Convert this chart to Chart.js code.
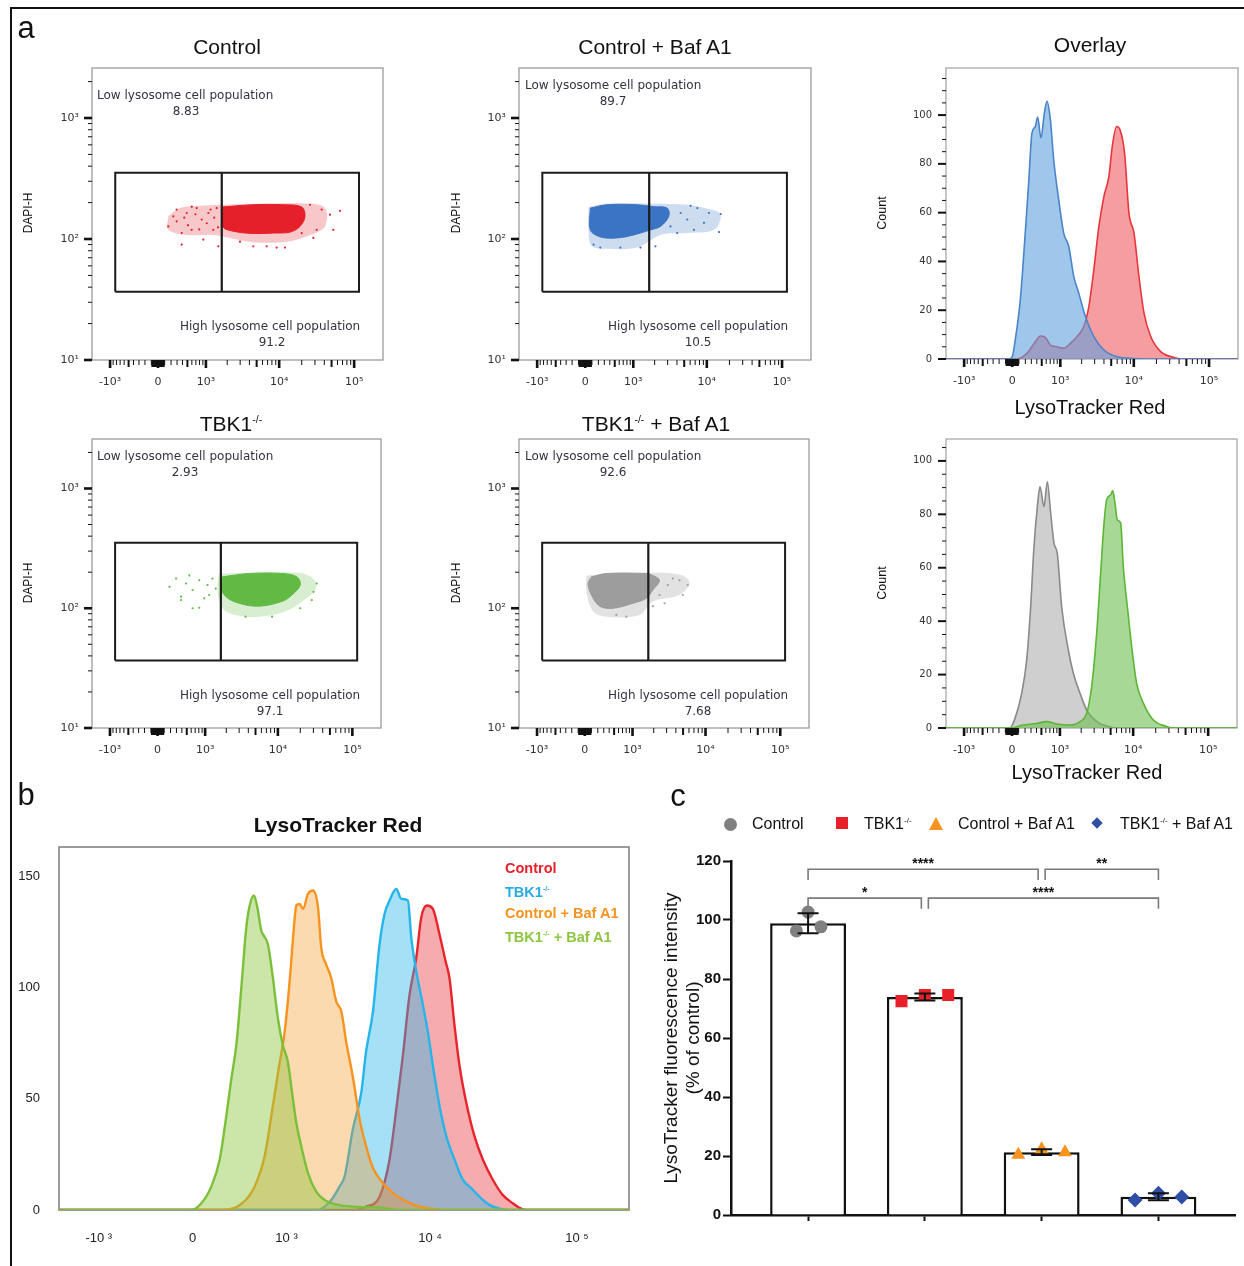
<!DOCTYPE html>
<html>
<head>
<meta charset="utf-8">
<title>LysoTracker Red</title>
<script src="https://cdn.jsdelivr.net/npm/chart.js@4.4.1/dist/chart.umd.min.js"></script>
<style>
  body { margin: 0; background: #fff; }
  #page { position: relative; width: 1244px; height: 1266px; overflow: hidden; background: #fff;
          font-family: "Liberation Sans", Arial, Helvetica, sans-serif; color: #111; }
  canvas { position: absolute; }
  .tx { position: absolute; white-space: nowrap; line-height: 1; z-index: 2; }
  .tx sup { font-size: 50%; vertical-align: 0; position: relative; top: -0.8em; }
  .flow { font-family: "DejaVu Sans", sans-serif; font-size: 12px; color: #35323f; }
  .mk { position: absolute; z-index: 2; }
</style>
</head>
<body>
<div id="page"></div>
<script>
// LysoTracker axis is biexponential, x values below are in its display units
var lysoTickValues = [-1000, 0, 1000, 10000, 100000];
var lysoTickLabels = ['-10³', '0', '10³', '10⁴', '10⁵'];
var bTickLabels = ['-10 ³', '0', '10 ³', '10 ⁴', '10 ⁵'];
var dapiTickValues = [10, 100, 1000];
var dapiTickLabels = ['10¹', '10²', '10³'];
var countTickValues = [0, 20, 40, 60, 80, 100];
var bCountTicks = [0, 50, 100, 150];

// gate: left / split / right, and DAPI-H bottom / top
var gateX = [-0.57, 0.85, 2.68];
var gateY = [36.7, 353];
var lowPct = ['8.83', '89.7', '2.93', '92.6'];
var highPct = ['91.2', '10.5', '97.1', '7.68'];

// scatter clouds [lyso, DAPI-H]
var ctrlCloud = [[0.137,154],[0.293,180],[0.56,188],[0.849,192],[2.027,196],[2.227,180],[2.227,127],[2.027,108],[1.716,95],[1.271,94],[0.96,102],[0.738,108],[0.383,108],[0.137,119]];
var ctrlCore = [[0.862,184],[1.271,192],[1.671,192],[1.916,184],[1.96,154],[1.893,127],[1.76,114],[1.538,112],[1.271,111],[1.004,116],[0.862,127]];
var ctrlDots = [[0.137,127],[0.204,154],[0.249,175],[0.316,112],[0.383,164],[0.449,119],[0.516,180],[0.583,145],[0.604,99],[0.671,164],[0.737,119],[0.782,180],[0.804,87],[0.316,90],[2.027,192],[2.116,119],[2.182,175],[2.293,159],[2.337,119],[2.427,171],[2.071,102],[1.693,85],[1.582,85],[1.449,87],[1.271,87],[1.093,95],[1.916,112],[0.25,140],[0.4,130],[0.5,160],[0.55,120],[0.65,135],[0.7,175],[0.45,185],[0.35,150],[0.75,150],[0.8,125]];

var bafCloud = [[0.044,185],[0.289,196],[0.911,196],[1.356,192],[1.667,175],[1.8,159],[1.711,119],[1.356,112],[1.0,108],[0.689,85],[0.289,83],[0.089,87],[0.044,112]];
var bafCore = [[0.067,180],[0.289,192],[0.689,192],[0.911,185],[1.089,180],[1.111,154],[1.0,127],[0.867,119],[0.644,108],[0.422,102],[0.2,104],[0.067,119]];
var bafDots = [[1.267,164],[1.356,145],[1.489,180],[1.578,136],[1.644,164],[1.8,161],[1.778,114],[1.444,119],[1.222,112],[0.933,87],[0.733,85],[0.467,85],[0.2,85],[0.111,90],[1.133,127],[1.4,188]];

var tbkCloud = [[0.827,195],[1.893,198],[2.116,171],[2.116,142],[1.938,114],[1.716,94],[1.36,85],[1.049,88],[0.871,100],[0.804,142]];
var tbkCore = [[0.871,183],[1.227,195],[1.671,195],[1.871,183],[1.916,156],[1.804,129],[1.671,114],[1.36,104],[1.093,110],[0.916,125],[0.849,151]];
var tbkDots = [[0.16,151],[0.249,177],[0.316,125],[0.383,161],[0.427,188],[0.471,142],[0.56,171],[0.627,121],[0.671,156],[0.737,177],[0.471,100],[0.316,117],[0.56,101],[0.693,129],[0.782,146],[2.071,117],[1.916,100],[2.093,137],[2.138,161],[1.538,85],[1.182,85]];

var tbkBafCloud = [[0.022,188],[0.911,198],[1.311,188],[1.4,161],[1.267,129],[0.911,114],[0.733,88],[0.289,85],[0.111,94],[0.022,137]];
var tbkBafCore = [[0.089,183],[0.289,195],[0.822,195],[0.911,188],[1.0,171],[0.911,142],[0.822,121],[0.644,110],[0.378,100],[0.2,104],[0.089,129],[0.044,161]];
var tbkBafDots = [[1.178,177],[1.267,171],[1.378,156],[1.311,129],[1.111,156],[1.0,129],[0.556,85],[0.422,88],[0.911,104],[1.067,110]];

// overlay histograms [lyso, count]
var ovBaf = [[-0.88,0],[-0.05,0],[0,0.9],[0.04,7.8],[0.107,24.2],[0.173,51.6],[0.218,72.1],[0.262,92.6],[0.307,95.3],[0.338,99.2],[0.382,90.6],[0.427,100.8],[0.462,105.6],[0.507,98.1],[0.551,81.7],[0.618,65.2],[0.684,51.6],[0.751,46.1],[0.818,33.8],[0.884,27],[0.973,17.4],[1.084,9.2],[1.218,3.7],[1.396,0.9],[1.618,0.2],[1.75,0],[3.0,0]];
var ovCtrl = [[-0.88,0],[0.06,0],[0.195,2.3],[0.307,7.1],[0.373,9.4],[0.44,8.9],[0.507,5.7],[0.596,5],[0.684,4.4],[0.773,6.4],[0.862,9.2],[0.951,13.3],[1.018,21.5],[1.084,36.5],[1.151,54.3],[1.218,66.6],[1.284,74.8],[1.329,87.1],[1.387,95.3],[1.44,93.3],[1.493,84.4],[1.551,59.8],[1.618,51.6],[1.684,33.8],[1.751,18.8],[1.84,9.2],[1.973,3],[2.151,0.6],[2.24,0],[3.0,0]];
var ovTbkBaf = [[-0.88,0],[-0.03,0],[0.04,3.6],[0.129,13],[0.196,25.5],[0.249,45.4],[0.293,67.9],[0.338,82.9],[0.373,90.4],[0.427,82.9],[0.471,92.2],[0.516,80.4],[0.56,69.2],[0.604,65.4],[0.662,45.4],[0.751,29.2],[0.818,20.5],[0.907,13],[0.996,6.7],[1.129,2.4],[1.307,0.4],[1.44,0],[3.0,0]];
var ovTbk = [[-0.88,0],[0.0,0],[0.129,1],[0.329,1.7],[0.462,2.4],[0.596,1.5],[0.773,1.1],[0.907,2.4],[0.996,5.5],[1.062,15.5],[1.129,35.5],[1.182,57.9],[1.227,76.7],[1.262,85.4],[1.316,87.3],[1.342,88.9],[1.373,84.2],[1.404,77.9],[1.449,76.7],[1.484,60.4],[1.538,45.4],[1.596,30.5],[1.662,16.7],[1.751,9.3],[1.884,3],[2.062,0.6],[2.151,0],[3.0,0]];

// panel b histograms
var bTbkBaf = [[-0.91,0],[-0.01,0],[0.059,3],[0.127,10.6],[0.184,22.7],[0.229,42.3],[0.263,58.9],[0.297,74],[0.331,99.7],[0.365,126.9],[0.388,136.7],[0.417,141.2],[0.44,135.9],[0.467,125.4],[0.485,123.1],[0.512,119.3],[0.546,104.2],[0.58,86.1],[0.614,74],[0.648,66.5],[0.676,52.9],[0.705,39.3],[0.739,28.7],[0.785,16.6],[0.841,8.3],[0.898,4.5],[0.989,2.3],[1.1,1.5],[1.29,1],[1.4,0],[2.97,0]];
var bBaf = [[-0.91,0],[0.2,0],[0.331,2.7],[0.422,10.6],[0.49,24.2],[0.546,46.8],[0.585,63.4],[0.626,80],[0.66,102.7],[0.689,126.9],[0.705,136.7],[0.728,137.4],[0.751,135.2],[0.785,142],[0.819,143.5],[0.853,135.9],[0.875,117.8],[0.909,110.2],[0.943,104.2],[0.977,93.7],[1.012,89.1],[1.045,75.5],[1.08,63.4],[1.1,55.9],[1.136,40.8],[1.18,28.7],[1.227,18.9],[1.295,12.1],[1.363,7.6],[1.454,3.8],[1.544,1.5],[1.66,0.3],[1.75,0],[2.97,0]];
var bTbk = [[-0.91,0],[0.85,0],[0.943,4.5],[1.0,10.6],[1.034,15],[1.09,36.2],[1.148,52.9],[1.18,71],[1.227,89.1],[1.272,119.3],[1.306,132.9],[1.34,139],[1.386,144.2],[1.42,139.7],[1.465,139],[1.488,122.3],[1.522,107.2],[1.567,92.1],[1.601,80],[1.635,64.9],[1.68,46.8],[1.726,33.2],[1.782,22.7],[1.839,13.6],[1.896,9.8],[1.952,6],[2.02,2.3],[2.11,0.3],[2.2,0],[2.97,0]];
var bCtrl = [[-0.91,0],[1.1,0],[1.18,1.5],[1.272,6],[1.34,22.7],[1.386,45.3],[1.431,69.5],[1.476,96.6],[1.522,113.3],[1.556,131.4],[1.594,136.7],[1.635,135.2],[1.68,123.8],[1.721,111.8],[1.748,104.2],[1.782,83],[1.816,64.9],[1.862,48.3],[1.918,33.2],[1.975,22.7],[2.043,13.6],[2.11,6.8],[2.179,3],[2.247,0.3],[2.3,0],[2.97,0]];

// panel c
var groups = ['Control', 'TBK1-/-', 'Control + Baf A1', 'TBK1-/- + Baf A1'];
var barMean = [98.9, 73.9, 21.3, 6.2];
var barSD = [3.4, 1.2, 1.0, 1.2];
var ctrlVals = [96.3, 102.7, 97.7];
var tbkVals = [72.5, 74.6, 74.6];
var bafVals = [20.4, 22.3, 21.3];
var tbkBafVals = [5.1, 7.4, 6.1];
var ctrlJitter = [-0.1, 0, 0.11];
var otherJitter = [-0.2, 0, 0.2];
var sigFrom = [1, 3.03, 1, 2.03];
var sigTo = [2.97, 4, 1.97, 4];
var sigY = [117.2, 117.2, 107.4, 107.4];
var sigText = ['****', '**', '*', '****'];

function lyso(v) { return Math.asinh(v / 485) / Math.LN10; }
function xy(list) { return list.map(function (p) { return { x: p[0], y: p[1] }; }); }
function closed(list) { return xy(list.concat([list[0]])); }

var page = document.getElementById('page');

function canvasAt(area, box) {
  var c = document.createElement('canvas');
  c.width = box.r - box.l; c.height = box.b - box.t;
  c.style.left = box.l + 'px'; c.style.top = box.t + 'px';
  page.appendChild(c);
  return { el: c, pad: { top: area.t - box.t, right: box.r - area.r, left: 0, bottom: 0 },
           yw: area.l - box.l, xh: box.b - area.b };
}

function put(html, x, y, css, how) {
  var d = document.createElement('div');
  d.className = 'tx';
  d.innerHTML = html;
  d.style.cssText = css || '';
  d.style.left = x + 'px'; d.style.top = y + 'px';
  if (how === 'left') d.style.transform = 'translate(0,-50%)';
  else if (how === 'rot') d.style.transform = 'translate(-50%,-50%) rotate(-90deg)';
  else d.style.transform = 'translate(-50%,-50%)';
  page.appendChild(d);
  return d;
}

// fixed axis boxes, so the plot areas land where the figure has them
function fitY(g) { return function (s) { s.width = g.yw; s.paddingTop = 0; s.paddingBottom = 0; }; }
function fitX(g) { return function (s) { s.height = g.xh; s.paddingLeft = 0; s.paddingRight = 0; }; }
var noGrid = { display: false, drawTicks: false };

// plugins
var frame = {
  id: 'frame',
  beforeDatasetsDraw: function (chart, args, o) {
    var a = chart.chartArea, ctx = chart.ctx;
    ctx.save();
    ctx.strokeStyle = o.color; ctx.lineWidth = o.width;
    ctx.strokeRect(a.left, a.top, a.right - a.left, a.bottom - a.top);
    ctx.restore();
  }
};

var tickMarks = {
  id: 'tickMarks',
  afterDraw: function (chart, args, o) {
    var a = chart.chartArea, ctx = chart.ctx;
    ctx.save();
    ctx.strokeStyle = '#111';
    (o.x || []).forEach(function (t) {
      var p = chart.scales.x.getPixelForValue(t[0]);
      if (p < a.left - 0.5 || p > a.right + 0.5) return;
      ctx.lineWidth = t[2];
      ctx.beginPath(); ctx.moveTo(p, a.bottom); ctx.lineTo(p, a.bottom + t[1]); ctx.stroke();
    });
    (o.y || []).forEach(function (t) {
      var p = chart.scales.y.getPixelForValue(t[0]);
      if (p < a.top - 0.5 || p > a.bottom + 0.5) return;
      ctx.lineWidth = t[2];
      ctx.beginPath(); ctx.moveTo(a.left, p); ctx.lineTo(a.left - t[1], p); ctx.stroke();
    });
    ctx.restore();
  }
};

var stars = {
  id: 'stars',
  afterDatasetsDraw: function (chart) {
    var ctx = chart.ctx, xs = chart.scales.x, ys = chart.scales.y;
    ctx.save();
    ctx.fillStyle = '#111';
    ctx.font = 'bold 14px "Liberation Sans", Arial, sans-serif';
    ctx.textAlign = 'center'; ctx.textBaseline = 'alphabetic';
    sigText.forEach(function (s, i) {
      ctx.fillText(s, xs.getPixelForValue((sigFrom[i] + sigTo[i]) / 2), ys.getPixelForValue(sigY[i]) - 1);
    });
    ctx.restore();
  }
};

// tick mark lists
var lysoMarks = [];
lysoTickValues.forEach(function (v) { lysoMarks.push([lyso(v), 8, 2.6]); });
[-500, 500, 5000, 50000].forEach(function (v) { lysoMarks.push([lyso(v), 7, 2]); });
[1, 2, 3, 4, 5, 6, 7, 8, 9].forEach(function (s) { lysoMarks.push([lyso(10 * s), 7, 1.3]); lysoMarks.push([lyso(-10 * s), 7, 1.3]); });
[1, 2, 3, 4, 6, 7, 8, 9].forEach(function (s) { lysoMarks.push([lyso(100 * s), 5, 1]); lysoMarks.push([lyso(-100 * s), 5, 1]); });
[2, 3, 4, 6, 7, 8, 9].forEach(function (s) { lysoMarks.push([lyso(1000 * s), 5, 1]); lysoMarks.push([lyso(10000 * s), 5, 1]); });

var dapiMarks = [];
dapiTickValues.forEach(function (v) { dapiMarks.push([v, 8, 2.6]); });
[2, 3, 4, 5, 6, 7, 8, 9].forEach(function (s) { dapiMarks.push([10 * s, 4, 1]); dapiMarks.push([100 * s, 4, 1]); });
dapiMarks.push([2000, 4, 1]);

function countMarks(max) {
  var out = [];
  for (var v = 0; v <= max; v += 5) out.push(v % 20 === 0 && v <= 100 ? [v, 8, 2] : [v, 4, 1]);
  return out;
}

var base = { responsive: false, animation: false, devicePixelRatio: 1, events: [] };
function opts(g, scales, plug) {
  var o = Object.assign({}, base);
  o.layout = { padding: g.pad };
  o.scales = scales;
  o.plugins = Object.assign({ legend: { display: false }, tooltip: { enabled: false } }, plug);
  return o;
}

function lysoAxis(g, min, max, font, pad, labels, color) {
  return {
    type: 'linear', min: min, max: max,
    grid: noGrid, border: { display: false },
    afterBuildTicks: function (s) { s.ticks = lysoTickValues.map(function (v) { return { value: lyso(v) }; }); },
    afterFit: fitX(g),
    ticks: { autoSkip: false, maxRotation: 0, minRotation: 0, padding: pad, font: font, color: color,
             callback: function (v, i) { return labels[i]; } }
  };
}

function flowScatter(area, box, cloud, core, dots, color, fade) {
  var g = canvasAt(area, box);
  new Chart(g.el, {
    type: 'scatter',
    data: { datasets: [
      { type: 'line', data: xy([[gateX[0], gateY[0]], [gateX[0], gateY[1]], [gateX[2], gateY[1]], [gateX[2], gateY[0]], [gateX[0], gateY[0]]]),
        borderColor: '#1b1b1b', borderWidth: 2, pointRadius: 0, fill: false, tension: 0 },
      { type: 'line', data: xy([[gateX[1], gateY[0]], [gateX[1], gateY[1]]]),
        borderColor: '#1b1b1b', borderWidth: 2.2, pointRadius: 0, fill: false, tension: 0 },
      { data: xy(dots), pointRadius: 1.1, backgroundColor: color, borderWidth: 0 },
      { type: 'line', data: closed(core), fill: 'shape', backgroundColor: color, borderColor: color,
        borderWidth: 1, pointRadius: 0, tension: 0.35 },
      { type: 'line', data: closed(cloud), fill: 'shape', backgroundColor: fade, borderWidth: 0,
        pointRadius: 0, tension: 0.35 }
    ] },
    options: opts(g, {
      x: lysoAxis(g, -0.88, 3.0, { family: 'DejaVu Sans', size: 11 }, 16, lysoTickLabels, '#333'),
      y: { type: 'logarithmic', min: 10, max: 2590, grid: noGrid, border: { display: false },
           afterBuildTicks: function (s) { s.ticks = dapiTickValues.map(function (v) { return { value: v }; }); },
           afterFit: fitY(g),
           ticks: { padding: 13, font: { family: 'DejaVu Sans', size: 11 }, color: '#333',
                    callback: function (v, i) { return dapiTickLabels[i]; } } }
    }, { frame: { color: '#9a9a9a', width: 1.3 }, tickMarks: { x: lysoMarks, y: dapiMarks } }),
    plugins: [frame, tickMarks]
  });
}

function flowHist(area, box, ymax, series) {
  var g = canvasAt(area, box);
  new Chart(g.el, {
    type: 'line',
    data: { datasets: series.map(function (s) {
      return { data: xy(s[0]), borderColor: s[1], backgroundColor: s[2], fill: 'origin', borderWidth: 1.6,
               pointRadius: 0, cubicInterpolationMode: 'monotone' };
    }) },
    options: opts(g, {
      x: lysoAxis(g, -0.88, 3.0, { family: 'DejaVu Sans', size: 11 }, 16, lysoTickLabels, '#333'),
      y: { type: 'linear', min: 0, max: ymax, grid: noGrid, border: { display: false },
           afterBuildTicks: function (s) { s.ticks = countTickValues.map(function (v) { return { value: v }; }); },
           afterFit: fitY(g),
           ticks: { padding: 14, font: { family: 'DejaVu Sans', size: 10 }, color: '#333' } }
    }, { frame: { color: '#a8a8a8', width: 1.3 }, tickMarks: { x: lysoMarks, y: countMarks(ymax) } }),
    plugins: [frame, tickMarks]
  });
}

// panel a
flowScatter({ l: 92, t: 68, r: 383, b: 360 }, { l: 40, t: 60, r: 390, b: 395 }, ctrlCloud, ctrlCore, ctrlDots, '#e5202a', 'rgba(229,32,42,0.25)');
flowScatter({ l: 519, t: 68, r: 811, b: 360 }, { l: 467, t: 60, r: 818, b: 395 }, bafCloud, bafCore, bafDots, '#3b74c2', 'rgba(59,116,194,0.25)');
flowScatter({ l: 92, t: 439, r: 381, b: 728 }, { l: 40, t: 431, r: 388, b: 765 }, tbkCloud, tbkCore, tbkDots, '#62ba45', 'rgba(98,186,69,0.25)');
flowScatter({ l: 519, t: 439, r: 809, b: 728 }, { l: 467, t: 431, r: 816, b: 765 }, tbkBafCloud, tbkBafCore, tbkBafDots, 'rgba(150,150,150,0.9)', 'rgba(160,160,160,0.3)');

flowHist({ l: 946, t: 68, r: 1238, b: 359 }, { l: 900, t: 60, r: 1244, b: 394 }, 119.3, [
  [ovBaf, '#4a84c9', 'rgba(95,160,222,0.6)'],
  [ovCtrl, '#e8363c', 'rgba(235,60,65,0.5)']
]);
flowHist({ l: 946, t: 439, r: 1237, b: 728 }, { l: 900, t: 431, r: 1244, b: 763 }, 108.2, [
  [ovTbk, '#5cb636', 'rgba(110,190,80,0.6)'],
  [ovTbkBaf, '#8a8a8a', 'rgba(175,175,175,0.6)']
]);

// panel b
(function () {
  var g = canvasAt({ l: 59, t: 847, r: 629, b: 1210 }, { l: 0, t: 840, r: 640, b: 1262 });
  var sets = [
    [bTbkBaf, '#7cbf3a', 'rgba(141,198,63,0.45)'],
    [bBaf, '#f7931e', 'rgba(247,148,29,0.35)'],
    [bTbk, '#27b4ea', 'rgba(39,180,234,0.42)'],
    [bCtrl, '#e8242c', 'rgba(232,36,44,0.38)']
  ];
  new Chart(g.el, {
    type: 'line',
    data: { datasets: sets.map(function (s) {
      return { data: xy(s[0]), borderColor: s[1], backgroundColor: s[2], fill: 'origin', borderWidth: 2.4,
               pointRadius: 0, cubicInterpolationMode: 'monotone' };
    }) },
    options: opts(g, {
      x: lysoAxis(g, -0.91, 2.97, { size: 13 }, 21, bTickLabels, '#222'),
      y: { type: 'linear', min: 0, max: 163, grid: noGrid, border: { display: false },
           afterBuildTicks: function (s) { s.ticks = bCountTicks.map(function (v) { return { value: v }; }); },
           afterFit: fitY(g),
           ticks: { padding: 19, font: { size: 13 }, color: '#222' } }
    }, { frame: { color: '#7a7a7a', width: 1.5 } }),
    plugins: [frame]
  });
})();

// panel c
(function () {
  var g = canvasAt({ l: 731, t: 861, r: 1240, b: 1215 }, { l: 690, t: 840, r: 1244, b: 1245 });
  var cap = 0.09;
  var eb = [];
  barMean.forEach(function (m, i) {
    var x = i + 1, lo = m - barSD[i], hi = m + barSD[i];
    eb.push({ x: x, y: lo }, { x: x, y: hi }, { x: x, y: null },
            { x: x - cap, y: hi }, { x: x + cap, y: hi }, { x: x, y: null },
            { x: x - cap, y: lo }, { x: x + cap, y: lo }, { x: x, y: null });
  });
  var br = [];
  sigText.forEach(function (s, i) {
    br.push({ x: sigFrom[i], y: sigY[i] - 3.6 }, { x: sigFrom[i], y: sigY[i] }, { x: sigTo[i], y: sigY[i] },
            { x: sigTo[i], y: sigY[i] - 3.6 }, { x: sigTo[i], y: null });
  });
  function dots(vals, jit, i, style, color, r) {
    return { type: 'scatter', data: vals.map(function (v, k) { return { x: i + 1 + jit[k], y: v }; }),
             pointStyle: style, pointRadius: r, backgroundColor: color, borderColor: color, borderWidth: 0 };
  }
  new Chart(g.el, {
    type: 'bar',
    data: { datasets: [
      { type: 'line', data: eb, borderColor: '#111', borderWidth: 2, pointRadius: 0, spanGaps: false, tension: 0, fill: false },
      dots(ctrlVals, ctrlJitter, 0, 'circle', '#808080', 6.5),
      dots(tbkVals, otherJitter, 1, 'rect', '#e8202a', 8.5),
      dots(bafVals, otherJitter, 2, 'triangle', '#f7941d', 8),
      dots(tbkBafVals, otherJitter, 3, 'rectRot', '#2f4ea5', 7.5),
      { type: 'line', data: br, borderColor: '#7a7a7a', borderWidth: 1.6, pointRadius: 0, spanGaps: false, tension: 0, fill: false },
      { type: 'bar', data: barMean.map(function (m, i) { return { x: i + 1, y: m }; }),
        backgroundColor: '#fff', borderColor: '#111', borderWidth: 2.5, barPercentage: 0.65, categoryPercentage: 1 }
    ] },
    options: opts(g, {
      x: { type: 'linear', min: 0.34, max: 4.66, offset: false,
           grid: { display: true, offset: false, drawOnChartArea: false, drawTicks: true, tickLength: 6, tickWidth: 2, tickColor: '#111' },
           border: { display: true, color: '#111', width: 2.5 },
           afterBuildTicks: function (s) { s.ticks = groups.map(function (n, i) { return { value: i + 1 }; }); },
           afterFit: fitX(g),
           ticks: { autoSkip: false, maxRotation: 0, callback: function () { return ''; } } },
      y: { type: 'linear', min: 0, max: 120,
           grid: { display: true, drawOnChartArea: false, drawTicks: true, tickLength: 8, tickWidth: 2, tickColor: '#111' },
           border: { display: true, color: '#111', width: 2.5 },
           afterBuildTicks: function (s) { s.ticks = [0, 20, 40, 60, 80, 100, 120].map(function (v) { return { value: v }; }); },
           afterFit: fitY(g),
           ticks: { padding: 2, font: { size: 15, weight: 'bold' }, color: '#111' } }
    }, {}),
    plugins: [stars]
  });
})();

// frame of the figure
var edge = document.createElement('div');
edge.style.cssText = 'position:absolute;left:10px;top:7px;width:1240px;height:1270px;border-left:2px solid #111;border-top:2px solid #111;';
page.appendChild(edge);

// text
var T = 'font-size:21px;';
put('a', 26, 27, 'font-size:31px;');
put('b', 26, 794, 'font-size:31px;');
put('c', 678, 795, 'font-size:31px;');
put('Control', 227, 46, T);
put('Control + Baf A1', 655, 46, T);
put('Overlay', 1090, 44, T);
put('TBK1<sup>-/-</sup>', 231, 423, T);
put('TBK1<sup>-/-</sup> + Baf A1', 656, 423, T);
put('LysoTracker Red', 1090, 407, 'font-size:20px;');
put('LysoTracker Red', 1087, 772, 'font-size:20px;');
[[28, 213], [28, 583], [456, 213], [456, 583]].forEach(function (p) { put('DAPI-H', p[0], p[1], 'font-size:12px;', 'rot'); });
[[882, 213], [882, 583]].forEach(function (p) { put('Count', p[0], p[1], 'font-size:12.5px;', 'rot'); });

var statPos = [[97, 95, 186, 111, 180, 326, 272, 342], [525, 85, 613, 101, 608, 326, 698, 342],
               [97, 456, 185, 472, 180, 695, 270, 711], [525, 456, 613, 472, 608, 695, 698, 711]];
statPos.forEach(function (p, i) {
  put('Low lysosome cell population', p[0], p[1], '', 'left').className += ' flow';
  put(lowPct[i], p[2], p[3], '').className += ' flow';
  put('High lysosome cell population', p[4], p[5], '', 'left').className += ' flow';
  put(highPct[i], p[6], p[7], '').className += ' flow';
});

put('LysoTracker Red', 338, 824, 'font-size:21px;font-weight:bold;');
var B = 'font-size:14.5px;font-weight:bold;';
put('Control', 505, 868, B + 'color:#e8202a;', 'left');
put('TBK1<sup>-/-</sup>', 505, 892, B + 'color:#29abe2;', 'left');
put('Control + Baf A1', 505, 913, B + 'color:#f7931e;', 'left');
put('TBK1<sup>-/-</sup> + Baf A1', 505, 937, B + 'color:#8cc63f;', 'left');

// panel c legend
var L = 'font-size:16px;';
put('Control', 752, 824, L, 'left');
put('TBK1<sup>-/-</sup>', 864, 824, L, 'left');
put('Control + Baf A1', 958, 824, L, 'left');
put('TBK1<sup>-/-</sup> + Baf A1', 1120, 824, L, 'left');
function mark(css) { var d = document.createElement('div'); d.className = 'mk'; d.style.cssText += css; page.appendChild(d); }
mark('left:724px;top:818px;width:13px;height:13px;border-radius:50%;background:#808080;');
mark('left:836px;top:817px;width:12px;height:12px;background:#e8202a;');
mark('left:929px;top:817px;width:0;height:0;border-left:7px solid transparent;border-right:7px solid transparent;border-bottom:13px solid #f7941d;');
mark('left:1093px;top:819px;width:8px;height:8px;background:#2f4ea5;transform:rotate(45deg);');
put('LysoTracker fluorescence intensity<br>(% of control)', 682, 1038, 'font-size:19px;line-height:22px;text-align:center;', 'rot');
</script>
</body>
</html>
